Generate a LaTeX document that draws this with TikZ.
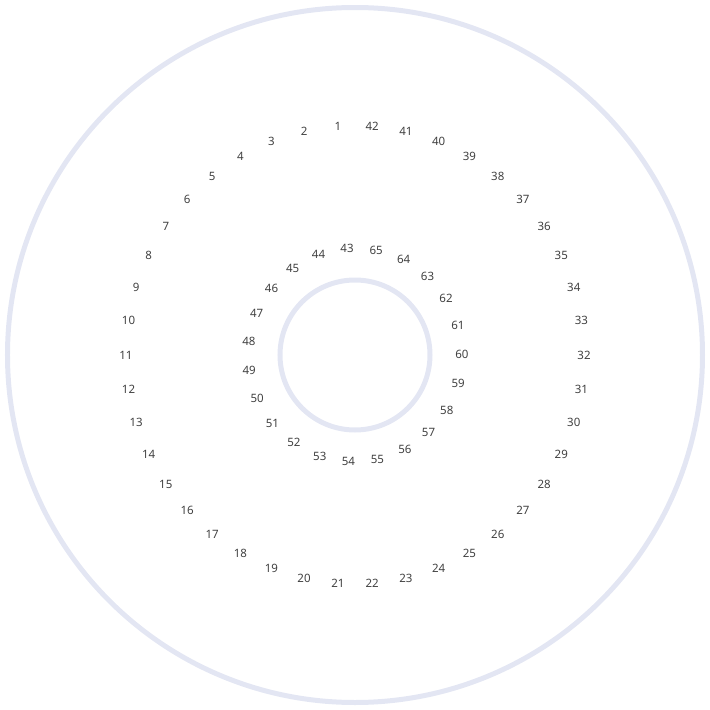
\documentclass[tikz,border=0pt]{standalone}
\usepackage{fontspec}
\setmainfont{Noto Sans}
\usepackage{tikz}
\usetikzlibrary{positioning, calc}

\definecolor{ringblue}{HTML}{E3E6F3}
\definecolor{numgray}{HTML}{404040}

\tikzset{
    ring/.style={draw=ringblue, line width=5pt},
    num/.style={text=numgray, font=\fontsize{11.5}{13}\selectfont, inner sep=0pt}
}

\begin{document}
\begin{tikzpicture}[x=1pt, y=1pt]
    \useasboundingbox (-355,-355) rectangle (355,355);
    \coordinate (O) at (0,0);

    % Rings
    \draw[ring] (O) circle (347.5);
    \draw[ring] (O) circle (75);

    % Outer numbers 1..42
    \def\outerr{229}
    \foreach \k in {1,...,42} {
        \node[num] (o\k) at ({90+(\k-0.5)*360/42}:\outerr) {\k};
    }

    % Inner numbers 43..65
    \def\innerr{107}
    \foreach \k in {43,...,65} {
        \node[num] (i\k) at ({90+180/42+(\k-43)*360/23}:\innerr) {\k};
    }
\end{tikzpicture}
\end{document}
